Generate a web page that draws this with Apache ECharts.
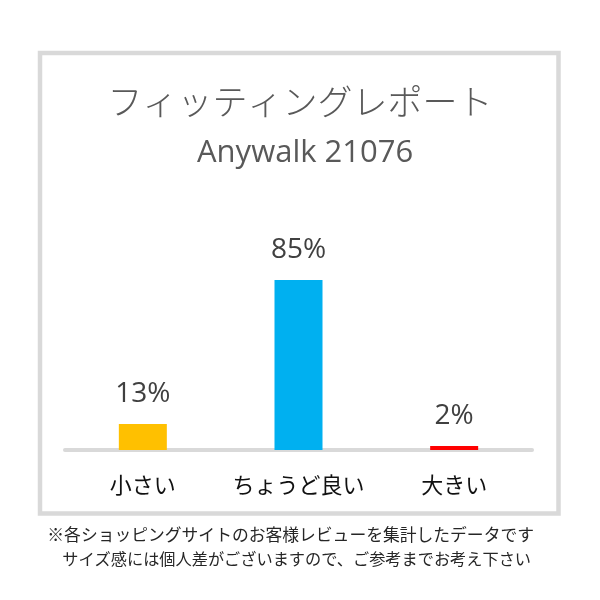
<!DOCTYPE html>
<html><head><meta charset="utf-8">
<script src="https://cdn.jsdelivr.net/npm/echarts@6/dist/echarts.min.js"></script>
<style>html,body{margin:0;padding:0;background:#fff}#c{width:600px;height:600px}</style>
</head><body><div id="c"></div>
<script>
const categories = ['小さい', 'ちょうど良い', '大きい'];
const values = [13, 85, 2];
const barColors = ['#FFC000', '#00B0F0', '#FF0000'];
const titleText = 'フィッティングレポート';
const subtitleText = 'Anywalk 21076';
const noteLines = ['※各ショッピングサイトのお客様レビューを集計したデータです', 'サイズ感には個人差がございますので、ご参考までお考え下さい'];

const chart = echarts.init(document.getElementById('c'));
chart.setOption({
  backgroundColor: '#ffffff',
  animation: false,
  title: [
    { text: titleText, left: 'center', top: 79, textStyle: { fontFamily: 'Noto Sans CJK JP', fontSize: 35, fontWeight: 300, color: '#595959' } },
    { text: subtitleText, left: 192, top: 133, textStyle: { fontFamily: 'Open Sans', fontSize: 31, fontWeight: 'normal', color: '#595959' } }
  ],
  graphic: [
    { type: 'rect', shape: { x: 40, y: 53, width: 518.5, height: 460.5 }, style: { fill: 'none', stroke: '#D9D9D9', lineWidth: 4.5 }, silent: true },
    { type: 'text', right: 66, top: 526, style: { text: noteLines[0], font: '16.8px "Noto Sans CJK JP"', fill: '#262626' } },
    { type: 'text', right: 69, top: 551, style: { text: noteLines[1], font: '16.2px "Noto Sans CJK JP"', fill: '#262626' } }
  ],
  grid: { left: 65, right: 68, bottom: 150, height: 200 },
  xAxis: {
    type: 'category', data: categories,
    axisLine: { lineStyle: { color: '#D9D9D9', width: 4 } },
    axisTick: { show: false },
    axisLabel: { interval: 0, margin: 24, fontFamily: 'Noto Sans CJK JP', fontSize: 22, color: '#111111' }
  },
  yAxis: { type: 'value', min: 0, max: 100, show: false, splitLine: { show: false } },
  series: [{
    type: 'bar', barWidth: 48,
    data: values.map((v, i) => ({ value: v, itemStyle: { color: barColors[i] } })),
    label: { show: true, position: 'top', distance: 16, formatter: '{c}%', fontFamily: 'Open Sans', fontSize: 28, color: '#404040' }
  }]
});
</script></body></html>
